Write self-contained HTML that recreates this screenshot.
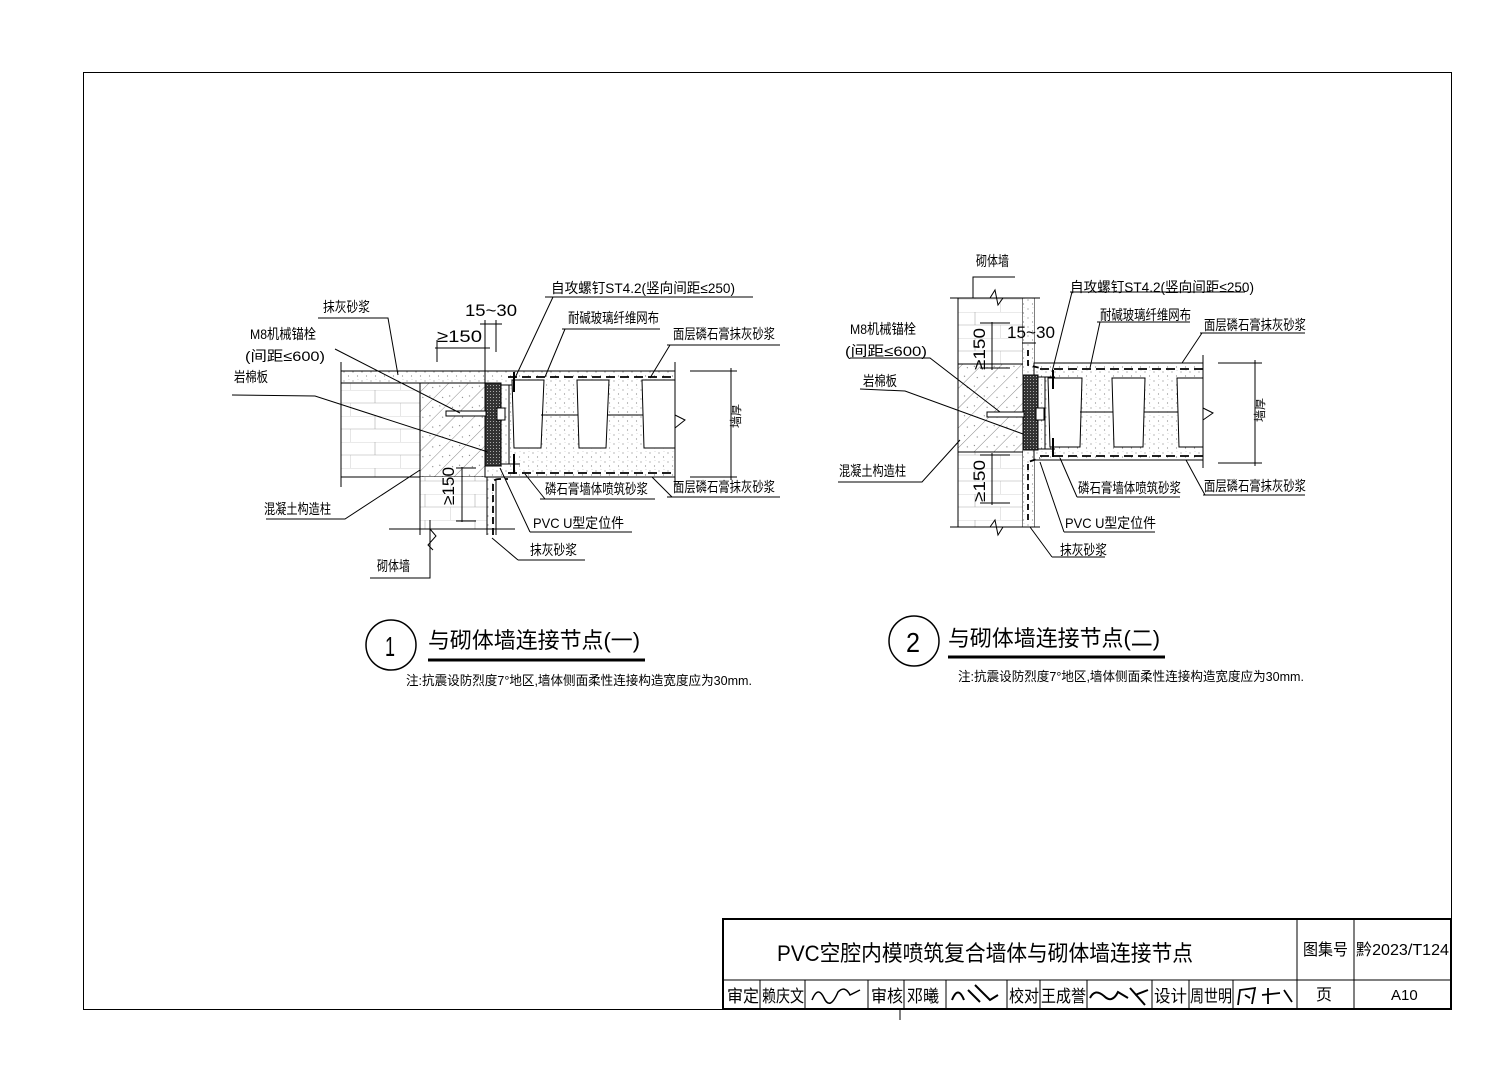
<!DOCTYPE html>
<html><head><meta charset="utf-8"><style>
html,body{margin:0;padding:0;background:#fff;}
svg{display:block;}
text{font-family:"Liberation Sans","Noto Sans CJK SC",sans-serif;fill:#000;}
</style></head><body>
<svg width="1506" height="1071" viewBox="0 0 1506 1071" xmlns="http://www.w3.org/2000/svg">
<defs>
<pattern id="conc" width="14" height="14" patternUnits="userSpaceOnUse" patternTransform="rotate(-45)">
<rect width="14" height="14" fill="#fff"/><line x1="0" y1="0" x2="14" y2="0" stroke="#555" stroke-width="0.7"/>
<circle cx="4" cy="6" r="0.6" fill="#777"/><circle cx="10" cy="10" r="0.6" fill="#777"/></pattern>
<pattern id="dots" width="9" height="9" patternUnits="userSpaceOnUse">
<rect width="9" height="9" fill="#fff"/><circle cx="2" cy="3" r="0.6" fill="#888"/><circle cx="6.5" cy="7" r="0.6" fill="#888"/><circle cx="7" cy="1.5" r="0.4" fill="#aaa"/></pattern>
<pattern id="wool" width="3" height="3" patternUnits="userSpaceOnUse">
<rect width="3" height="3" fill="#333"/><rect x="1" y="1" width="1" height="1" fill="#aaa"/></pattern>
<pattern id="brickH" width="50" height="26" patternUnits="userSpaceOnUse">
<rect width="50" height="26" fill="#fff"/><line x1="0" y1="0" x2="50" y2="0" stroke="#aaa" stroke-width="0.6"/><line x1="0" y1="13" x2="50" y2="13" stroke="#aaa" stroke-width="0.6"/>
<line x1="25" y1="0" x2="25" y2="13" stroke="#aaa" stroke-width="0.6"/><line x1="0" y1="13" x2="0" y2="26" stroke="#aaa" stroke-width="0.6"/></pattern>
</defs>
<rect width="1506" height="1071" fill="#fff"/>
<rect x="83.5" y="72.5" width="1368" height="937" fill="none" stroke="#000" stroke-width="1"/>

<!-- ===== LEFT DETAIL ===== -->
<g stroke="#000" stroke-width="1" fill="none">
<rect x="341" y="383" width="79" height="94" fill="url(#brickH)" stroke="none"/>
<line x1="341" y1="362" x2="341" y2="487"/>
<rect x="341" y="371" width="144" height="12" fill="url(#dots)"/>
<rect x="420" y="383" width="65" height="94" fill="url(#conc)"/>
<line x1="341" y1="477" x2="675" y2="477"/>
<rect x="420" y="477" width="67" height="52" fill="url(#brickH)" stroke="none"/>
<line x1="420" y1="477" x2="420" y2="535"/>
<rect x="487" y="477" width="9" height="58" fill="url(#dots)" stroke="none"/>
<line x1="487" y1="477" x2="487" y2="535"/><line x1="496" y1="480" x2="496" y2="535"/>
<line x1="389" y1="529" x2="515" y2="529"/>
<path d="M430 529 L436 536 L428 545 L433 550" />
<rect x="485" y="371" width="190" height="106" fill="url(#dots)"/>
<rect x="485" y="383" width="16" height="83" fill="url(#wool)" stroke="#000"/>
<line x1="675" y1="362" x2="675" y2="487"/>
<path d="M675 415 L685 420 L675 428" fill="#fff"/>
<line x1="508" y1="377" x2="675" y2="377" stroke-dasharray="9,5" stroke-width="1.8"/>
<line x1="508" y1="473" x2="675" y2="473" stroke-dasharray="9,5" stroke-width="1.8"/>
<path d="M493 535 L493 483 Q493 479 500 479 L508 479" stroke-dasharray="7,4" stroke-width="1.8"/>
<path d="M501 385 L520 385 M501 464 L520 464 M509 385 L509 464" />
<path d="M512 380 L544 380 L541 448 L514 448 Z" fill="#fff"/>
<path d="M577 380 L609 380 L606 448 L579 448 Z" fill="#fff"/>
<path d="M642 380 L675 380 L675 448 L644 448 Z" fill="#fff"/>
<line x1="541" y1="415" x2="578" y2="415"/><line x1="607" y1="415" x2="643" y2="415"/>
<rect x="446" y="411" width="40" height="5" fill="#fff"/>
<rect x="497" y="408" width="8" height="12" fill="#fff"/>
<line x1="514" y1="372" x2="514" y2="392" stroke-width="2"/><line x1="514" y1="454" x2="514" y2="474" stroke-width="2"/>
<line x1="435" y1="348" x2="490" y2="348"/><line x1="437" y1="340" x2="437" y2="362"/><line x1="485" y1="320" x2="485" y2="371"/>
<line x1="496" y1="320" x2="496" y2="352"/><line x1="480" y1="324" x2="502" y2="324"/>
<line x1="462" y1="467" x2="462" y2="522"/><line x1="456" y1="468" x2="476" y2="468"/><line x1="456" y1="521" x2="476" y2="521"/>
<line x1="731" y1="368" x2="731" y2="480"/><line x1="690" y1="371" x2="737" y2="371"/><line x1="690" y1="477" x2="737" y2="477"/>
<path d="M318 318 L388 318 L398 375"/>
<path d="M335 349 L460 413"/>
<path d="M232 395 L315 396 L488 452"/>
<path d="M266 519 L345 519 L420 470"/>
<path d="M370 578 L430 578 L430 520"/>
<path d="M545 297 L753 297 M553 297 L515 378"/>
<path d="M562 329 L660 329 M565 329 L545 377"/>
<path d="M667 345 L780 345 M670 345 L650 378"/>
<path d="M540 499 L655 499 M545 499 L525 474"/>
<path d="M667 497 L780 497 M672 497 L652 477"/>
<path d="M530 532 L632 532 M530 532 L500 468"/>
<path d="M518 560 L585 560 M518 560 L492 538"/>
</g>
<g font-size="14">
<text x="323" y="312" textLength="47" lengthAdjust="spacingAndGlyphs">抹灰砂浆</text>
<text x="250" y="339" textLength="66" lengthAdjust="spacingAndGlyphs">M8机械锚栓</text>
<text x="245" y="361" textLength="80" lengthAdjust="spacingAndGlyphs">(间距≤600)</text>
<text x="234" y="382" textLength="34" lengthAdjust="spacingAndGlyphs">岩棉板</text>
<text x="264" y="514" textLength="67" lengthAdjust="spacingAndGlyphs">混凝土构造柱</text>
<text x="377" y="571" textLength="33" lengthAdjust="spacingAndGlyphs">砌体墙</text>
<text x="551" y="293" textLength="184" lengthAdjust="spacingAndGlyphs">自攻螺钉ST4.2(竖向间距≤250)</text>
<text x="568" y="323" textLength="91" lengthAdjust="spacingAndGlyphs">耐碱玻璃纤维网布</text>
<text x="673" y="339" textLength="102" lengthAdjust="spacingAndGlyphs">面层磷石膏抹灰砂浆</text>
<text x="545" y="494" textLength="103" lengthAdjust="spacingAndGlyphs">磷石膏墙体喷筑砂浆</text>
<text x="673" y="492" textLength="102" lengthAdjust="spacingAndGlyphs">面层磷石膏抹灰砂浆</text>
<text x="533" y="528" textLength="91" lengthAdjust="spacingAndGlyphs">PVC U型定位件</text>
<text x="530" y="555" textLength="47" lengthAdjust="spacingAndGlyphs">抹灰砂浆</text>
<text x="465" y="316" font-size="17" textLength="52" lengthAdjust="spacingAndGlyphs">15~30</text>
<text x="437" y="342" font-size="17" textLength="45" lengthAdjust="spacingAndGlyphs">≥150</text>
<text transform="translate(454,505) rotate(-90)" font-size="17" textLength="38" lengthAdjust="spacingAndGlyphs">≥150</text>
<text transform="translate(740,428) rotate(-90)" font-size="12">墙厚</text>
</g>

<!-- ===== RIGHT DETAIL ===== -->
<g stroke="#000" stroke-width="1" fill="none">
<rect x="958" y="298" width="65" height="66" fill="url(#brickH)" stroke="none"/>
<rect x="958" y="452" width="65" height="75" fill="url(#brickH)" stroke="none"/>
<rect x="958" y="364" width="65" height="88" fill="url(#conc)" stroke="none"/>
<line x1="958" y1="298" x2="958" y2="527"/><line x1="1023" y1="298" x2="1023" y2="527"/><line x1="1034" y1="298" x2="1034" y2="363"/><line x1="1034" y1="460" x2="1034" y2="527"/>
<line x1="958" y1="364" x2="1023" y2="364"/><line x1="958" y1="452" x2="1023" y2="452"/>
<rect x="1023" y="298" width="11" height="229" fill="url(#dots)" stroke="none"/>
<line x1="950" y1="298" x2="1040" y2="298"/><line x1="950" y1="527" x2="1040" y2="527"/>
<path d="M990 298 L995 290 L998 305 L1003 298"/><path d="M990 527 L995 520 L998 535 L1003 527"/>
<path d="M973 298 L973 277 L1015 277"/>
<rect x="1034" y="363" width="169" height="97" fill="url(#dots)"/>
<rect x="1023" y="375" width="15" height="75" fill="url(#wool)" stroke="#000"/>
<line x1="1203" y1="355" x2="1203" y2="468"/>
<path d="M1203 408 L1213 413 L1203 420" fill="#fff"/>
<line x1="1040" y1="369" x2="1203" y2="369" stroke-dasharray="9,5" stroke-width="1.8"/>
<line x1="1040" y1="456" x2="1203" y2="456" stroke-dasharray="9,5" stroke-width="1.8"/>
<path d="M1028 350 L1028 365 L1040 368" stroke-dasharray="6,4" stroke-width="1.8"/>
<path d="M1028 520 L1028 462 L1040 458" stroke-dasharray="6,4" stroke-width="1.8"/>
<path d="M1038 377 L1055 377 M1038 449 L1055 449 M1045 377 L1045 449"/>
<path d="M1048 378 L1082 378 L1080 447 L1050 447 Z" fill="#fff"/>
<path d="M1112 378 L1145 378 L1143 447 L1114 447 Z" fill="#fff"/>
<path d="M1177 378 L1203 378 L1203 447 L1179 447 Z" fill="#fff"/>
<line x1="1080" y1="412" x2="1113" y2="412"/><line x1="1144" y1="412" x2="1178" y2="412"/>
<rect x="987" y="412" width="37" height="5" fill="#fff"/>
<rect x="1036" y="408" width="8" height="12" fill="#fff"/>
<line x1="1053" y1="370" x2="1053" y2="389" stroke-width="2"/><line x1="1053" y1="438" x2="1053" y2="457" stroke-width="2"/>
<line x1="992" y1="322" x2="992" y2="370"/><line x1="980" y1="323" x2="1010" y2="323"/><line x1="980" y1="368" x2="1010" y2="368"/>
<line x1="992" y1="453" x2="992" y2="505"/><line x1="980" y1="455" x2="1010" y2="455"/><line x1="980" y1="503" x2="1010" y2="503"/>
<line x1="1022" y1="343" x2="1036" y2="343"/>
<line x1="1255" y1="360" x2="1255" y2="466"/><line x1="1218" y1="363" x2="1262" y2="363"/><line x1="1218" y1="463" x2="1262" y2="463"/>
<path d="M850 358 L930 358 L1000 412"/>
<path d="M860 389 L905 391 L1023 434"/>
<path d="M838 482 L922 482 L960 440"/>
<path d="M1070 292 L1245 292 M1072 292 L1052 372"/>
<path d="M1097 322 L1190 322 M1100 322 L1090 368"/>
<path d="M1200 333 L1305 333 M1202 333 L1182 363"/>
<path d="M1077 497 L1180 497 M1077 497 L1060 458"/>
<path d="M1203 495 L1305 495 M1205 495 L1186 460"/>
<path d="M1064 532 L1155 532 M1064 532 L1040 462"/>
<path d="M1052 557 L1105 557 M1052 557 L1030 527"/>
</g>
<g font-size="14">
<text x="976" y="266" textLength="33" lengthAdjust="spacingAndGlyphs">砌体墙</text>
<text x="850" y="334" textLength="66" lengthAdjust="spacingAndGlyphs">M8机械锚栓</text>
<text x="845" y="356" textLength="82" lengthAdjust="spacingAndGlyphs">(间距≤600)</text>
<text x="863" y="386" textLength="34" lengthAdjust="spacingAndGlyphs">岩棉板</text>
<text x="839" y="476" textLength="67" lengthAdjust="spacingAndGlyphs">混凝土构造柱</text>
<text x="1070" y="292" textLength="184" lengthAdjust="spacingAndGlyphs">自攻螺钉ST4.2(竖向间距≤250)</text>
<text x="1100" y="320" textLength="91" lengthAdjust="spacingAndGlyphs">耐碱玻璃纤维网布</text>
<text x="1204" y="330" textLength="102" lengthAdjust="spacingAndGlyphs">面层磷石膏抹灰砂浆</text>
<text x="1078" y="493" textLength="103" lengthAdjust="spacingAndGlyphs">磷石膏墙体喷筑砂浆</text>
<text x="1204" y="491" textLength="102" lengthAdjust="spacingAndGlyphs">面层磷石膏抹灰砂浆</text>
<text x="1065" y="528" textLength="91" lengthAdjust="spacingAndGlyphs">PVC U型定位件</text>
<text x="1060" y="555" textLength="47" lengthAdjust="spacingAndGlyphs">抹灰砂浆</text>
<text x="1007" y="338" font-size="17" textLength="48" lengthAdjust="spacingAndGlyphs">15~30</text>
<text transform="translate(985,370) rotate(-90)" font-size="17" textLength="42" lengthAdjust="spacingAndGlyphs">≥150</text>
<text transform="translate(985,502) rotate(-90)" font-size="17" textLength="42" lengthAdjust="spacingAndGlyphs">≥150</text>
<text transform="translate(1264,422) rotate(-90)" font-size="12">墙厚</text>
</g>

<!-- ===== TITLES ===== -->
<circle cx="391" cy="645" r="25" fill="none" stroke="#000" stroke-width="1.5"/>
<text x="385" y="656" font-size="28" textLength="10" lengthAdjust="spacingAndGlyphs">1</text>
<text x="428" y="648" font-size="22" textLength="212" lengthAdjust="spacingAndGlyphs">与砌体墙连接节点(一)</text>
<line x1="428" y1="660" x2="645" y2="660" stroke="#000" stroke-width="3"/>
<text x="406" y="685" font-size="13" textLength="346" lengthAdjust="spacingAndGlyphs">注:抗震设防烈度7°地区,墙体侧面柔性连接构造宽度应为30mm.</text>

<circle cx="914" cy="641" r="25" fill="none" stroke="#000" stroke-width="1.5"/>
<text x="906" y="652" font-size="28" textLength="14" lengthAdjust="spacingAndGlyphs">2</text>
<text x="948" y="646" font-size="22" textLength="212" lengthAdjust="spacingAndGlyphs">与砌体墙连接节点(二)</text>
<line x1="948" y1="657" x2="1165" y2="657" stroke="#000" stroke-width="3"/>
<text x="958" y="681" font-size="13" textLength="346" lengthAdjust="spacingAndGlyphs">注:抗震设防烈度7°地区,墙体侧面柔性连接构造宽度应为30mm.</text>

<!-- ===== TITLE BLOCK ===== -->
<g stroke="#000" fill="none">
<rect x="723" y="919" width="728" height="90" stroke-width="2"/>
<line x1="723" y1="980" x2="1451" y2="980"/>
<line x1="1297" y1="919" x2="1297" y2="1009"/>
<line x1="1354" y1="919" x2="1354" y2="1009"/>
<line x1="760" y1="980" x2="760" y2="1009"/>
<line x1="805" y1="980" x2="805" y2="1009"/>
<line x1="868" y1="980" x2="868" y2="1009"/>
<line x1="904" y1="980" x2="904" y2="1009"/>
<line x1="946" y1="980" x2="946" y2="1009"/>
<line x1="1007" y1="980" x2="1007" y2="1009"/>
<line x1="1040" y1="980" x2="1040" y2="1009"/>
<line x1="1087" y1="980" x2="1087" y2="1009"/>
<line x1="1152" y1="980" x2="1152" y2="1009"/>
<line x1="1189" y1="980" x2="1189" y2="1009"/>
<line x1="1233" y1="980" x2="1233" y2="1009"/>
<path d="M812 1000 Q818 985 824 998 T838 992 Q845 985 850 995 L860 990" stroke-width="1.5"/>
<path d="M952 1000 Q958 985 964 1000 M968 990 L980 1002 M975 985 L990 1000 L998 995" stroke-width="2"/>
<path d="M1090 998 Q1095 988 1104 996 Q1112 1004 1118 992 L1128 998 M1130 988 L1145 1005 M1135 995 L1148 990" stroke-width="2"/>
<path d="M1238 1005 L1240 990 L1255 988 L1252 1004 M1245 995 L1250 998 M1262 995 L1280 993 M1268 988 L1268 1004 M1284 990 L1292 1002" stroke-width="1.8"/>
</g>
<text x="777" y="961" font-size="22" textLength="416" lengthAdjust="spacingAndGlyphs">PVC空腔内模喷筑复合墙体与砌体墙连接节点</text>
<text x="1303" y="955" font-size="16" textLength="45" lengthAdjust="spacingAndGlyphs">图集号</text>
<text x="1356" y="955" font-size="16" textLength="93" lengthAdjust="spacingAndGlyphs">黔2023/T124</text>
<text x="1316" y="1000" font-size="16">页</text>
<text x="1391" y="1000" font-size="15" font-family="Liberation Serif,serif">A10</text>
<g font-size="17">
<text x="727" y="1002" textLength="32" lengthAdjust="spacingAndGlyphs">审定</text>
<text x="762" y="1002" textLength="42" lengthAdjust="spacingAndGlyphs">赖庆文</text>
<text x="871" y="1002" textLength="32" lengthAdjust="spacingAndGlyphs">审核</text>
<text x="907" y="1002" textLength="32" lengthAdjust="spacingAndGlyphs">邓曦</text>
<text x="1009" y="1002" textLength="30" lengthAdjust="spacingAndGlyphs">校对</text>
<text x="1041" y="1002" textLength="45" lengthAdjust="spacingAndGlyphs">王成誉</text>
<text x="1154" y="1002" textLength="33" lengthAdjust="spacingAndGlyphs">设计</text>
<text x="1190" y="1002" textLength="42" lengthAdjust="spacingAndGlyphs">周世明</text>
</g>
<line x1="900" y1="1009" x2="900" y2="1020" stroke="#000"/>
</svg>
</body></html>
